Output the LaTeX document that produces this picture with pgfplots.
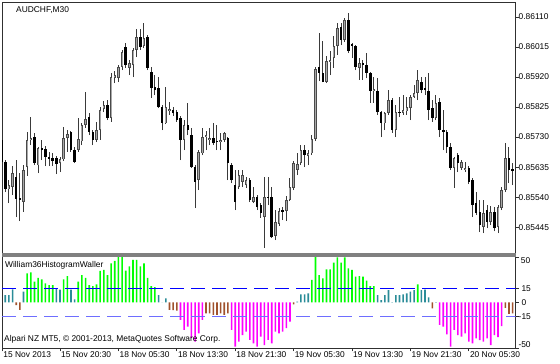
\documentclass[border=0pt]{standalone}
\usepackage{pgfplots}
\usepackage{pgfplotstable}
\pgfplotsset{compat=1.18}
\usepackage{fontspec}
\setmainfont{Liberation Sans}
\definecolor{wickcol}{HTML}{3A3A3A}
\definecolor{bullline}{HTML}{4A4A4A}
\definecolor{bullin}{HTML}{A8A8A8}
\definecolor{hlime}{HTML}{00FF00}
\definecolor{hteal}{HTML}{2A8C98}
\definecolor{hbrown}{HTML}{A0522D}
\definecolor{hmag}{HTML}{FF00FF}
\definecolor{lvlup}{HTML}{0000FF}
\definecolor{lvldn}{HTML}{6E6EFF}
\definecolor{framecol}{HTML}{303030}

\pgfplotstableread{
k o h l c
-1 0.85721 0.85736 0.85641 0.85651
0 0.85651 0.85657 0.85556 0.85565
1 0.85565 0.85594 0.85521 0.85578
2 0.85572 0.85638 0.85546 0.85616
3 0.85603 0.85657 0.85477 0.85534
4 0.85537 0.85616 0.85464 0.85531
5 0.85524 0.85641 0.85493 0.85626
6 0.85635 0.85746 0.85607 0.85721
7 0.85721 0.85793 0.85705 0.85727
8 0.85730 0.85743 0.85641 0.85648
9 0.85641 0.85698 0.85616 0.85695
10 0.85695 0.85721 0.85657 0.85689
11 0.85692 0.85702 0.85638 0.85667
12 0.85667 0.85683 0.85638 0.85660
13 0.85664 0.85679 0.85638 0.85654
14 0.85664 0.85670 0.85613 0.85645
15 0.85648 0.85667 0.85619 0.85660
16 0.85660 0.85762 0.85654 0.85727
17 0.85727 0.85752 0.85683 0.85740
18 0.85746 0.85749 0.85683 0.85689
19 0.85689 0.85698 0.85648 0.85651
20 0.85689 0.85790 0.85683 0.85724
21 0.85717 0.85774 0.85705 0.85768
22 0.85768 0.85873 0.85759 0.85787
23 0.85793 0.85806 0.85736 0.85746
24 0.85746 0.85752 0.85705 0.85721
25 0.85721 0.85778 0.85714 0.85752
26 0.85752 0.85825 0.85721 0.85816
27 0.85819 0.85844 0.85809 0.85831
28 0.85831 0.85847 0.85784 0.85790
29 0.85790 0.85933 0.85778 0.85920
30 0.85917 0.85939 0.85901 0.85926
31 0.85917 0.85958 0.85904 0.85952
32 0.85952 0.86006 0.85942 0.85999
33 0.86015 0.86028 0.85949 0.85958
34 0.85949 0.85974 0.85926 0.85964
35 0.85958 0.86012 0.85920 0.86006
36 0.86006 0.86072 0.85983 0.86047
37 0.86047 0.86072 0.86006 0.86015
38 0.86018 0.86091 0.86012 0.86044
39 0.86047 0.86053 0.85942 0.85949
40 0.85936 0.85952 0.85854 0.85885
41 0.85888 0.85926 0.85863 0.85879
42 0.85885 0.85920 0.85822 0.85825
43 0.85825 0.85831 0.85752 0.85774
44 0.85774 0.85888 0.85771 0.85825
45 0.85812 0.85841 0.85800 0.85819
46 0.85816 0.85825 0.85797 0.85806
47 0.85809 0.85816 0.85778 0.85784
48 0.85790 0.85797 0.85657 0.85721
49 0.85721 0.85784 0.85689 0.85768
50 0.85768 0.85838 0.85736 0.85752
51 0.85736 0.85759 0.85632 0.85635
52 0.85635 0.85641 0.85505 0.85588
53 0.85594 0.85689 0.85562 0.85683
54 0.85679 0.85759 0.85673 0.85730
55 0.85730 0.85749 0.85689 0.85736
56 0.85721 0.85759 0.85705 0.85727
57 0.85727 0.85774 0.85705 0.85711
58 0.85717 0.85768 0.85689 0.85714
59 0.85714 0.85743 0.85689 0.85721
60 0.85721 0.85746 0.85714 0.85743
61 0.85727 0.85730 0.85594 0.85648
62 0.85641 0.85648 0.85584 0.85594
63 0.85578 0.85626 0.85499 0.85524
64 0.85572 0.85626 0.85565 0.85610
65 0.85588 0.85626 0.85572 0.85610
66 0.85578 0.85603 0.85569 0.85594
67 0.85594 0.85600 0.85524 0.85531
68 0.85524 0.85572 0.85521 0.85540
69 0.85540 0.85546 0.85499 0.85508
70 0.85515 0.85521 0.85474 0.85489
71 0.85477 0.85603 0.85379 0.85540
72 0.85540 0.85603 0.85515 0.85537
73 0.85540 0.85572 0.85410 0.85413
74 0.85417 0.85499 0.85404 0.85461
75 0.85455 0.85505 0.85448 0.85496
76 0.85499 0.85508 0.85467 0.85493
77 0.85496 0.85543 0.85464 0.85531
78 0.85531 0.85600 0.85527 0.85572
79 0.85569 0.85654 0.85562 0.85648
80 0.85626 0.85679 0.85610 0.85645
81 0.85648 0.85705 0.85641 0.85689
82 0.85689 0.85705 0.85635 0.85673
83 0.85670 0.85689 0.85641 0.85679
84 0.85679 0.85736 0.85673 0.85724
85 0.85724 0.85952 0.85717 0.85945
86 0.85952 0.86059 0.85907 0.85933
87 0.85933 0.86034 0.85904 0.85904
88 0.85904 0.85987 0.85901 0.85971
89 0.85968 0.86002 0.85926 0.85974
90 0.85980 0.86050 0.85949 0.86018
91 0.86018 0.86091 0.85990 0.86075
92 0.86078 0.86091 0.86021 0.86037
93 0.86037 0.86107 0.86031 0.86101
94 0.86101 0.86123 0.85996 0.86002
95 0.86025 0.86028 0.85980 0.86018
96 0.86018 0.86021 0.85942 0.85952
97 0.85949 0.85980 0.85911 0.85964
98 0.85964 0.85974 0.85911 0.85958
99 0.85958 0.85996 0.85917 0.85933
100 0.85933 0.85936 0.85838 0.85876
101 0.85876 0.85920 0.85838 0.85882
102 0.85876 0.85917 0.85800 0.85809
103 0.85809 0.85812 0.85730 0.85774
104 0.85774 0.85809 0.85752 0.85806
105 0.85806 0.85879 0.85800 0.85847
106 0.85847 0.85854 0.85743 0.85752
107 0.85752 0.85831 0.85730 0.85809
108 0.85809 0.85857 0.85793 0.85806
109 0.85806 0.85863 0.85800 0.85816
110 0.85812 0.85857 0.85800 0.85825
111 0.85822 0.85863 0.85784 0.85857
112 0.85857 0.85895 0.85854 0.85869
113 0.85869 0.85942 0.85847 0.85911
114 0.85904 0.85920 0.85869 0.85879
115 0.85885 0.85920 0.85863 0.85879
116 0.85876 0.85933 0.85784 0.85816
117 0.85822 0.85847 0.85778 0.85790
118 0.85790 0.85863 0.85784 0.85838
119 0.85841 0.85854 0.85730 0.85752
120 0.85752 0.85816 0.85689 0.85746
121 0.85746 0.85752 0.85679 0.85698
122 0.85698 0.85711 0.85626 0.85632
123 0.85632 0.85667 0.85569 0.85664
124 0.85673 0.85679 0.85619 0.85648
125 0.85632 0.85657 0.85626 0.85651
126 0.85626 0.85651 0.85619 0.85632
127 0.85632 0.85638 0.85581 0.85588
128 0.85594 0.85600 0.85477 0.85515
129 0.85521 0.85556 0.85483 0.85489
130 0.85493 0.85531 0.85429 0.85451
131 0.85445 0.85531 0.85426 0.85489
132 0.85499 0.85515 0.85442 0.85461
133 0.85461 0.85512 0.85451 0.85493
134 0.85493 0.85508 0.85432 0.85442
135 0.85445 0.85515 0.85426 0.85508
136 0.85505 0.85572 0.85499 0.85562
137 0.85562 0.85711 0.85556 0.85664
138 0.85664 0.85698 0.85584 0.85626
139 0.85629 0.85648 0.85578 0.85622
}\candles

\pgfplotstableread{
k v
-1 0
0 8
1 8
2 14.5
3 -3
4 -8
5 12
6 32
7 33
8 23
9 27
10 25.5
11 21
12 19
13 19
14 14.6
15 14
16 25.5
17 29
18 14
19 3.5
20 23
21 30
22 27
23 19
24 18
25 20
26 34.6
27 35.7
28 30
29 43
30 45.7
31 50
32 50
33 35
34 39.6
35 46.7
36 46.7
37 39.6
38 43
39 27
40 18
41 17
42 8
43 0
44 4.6
45 -8
46 -8.5
47 -9
48 -19
49 -30
50 -26.6
51 -39
52 -43
53 -34
54 -19
55 -12
56 -12
57 -13.7
58 -13.7
59 -12
60 -13.7
61 -12
62 -30
63 -48.5
64 -43
65 -35.7
66 -32
67 -41
68 -45
69 -48.5
70 -37.5
71 -46.7
72 -41
73 -45
74 -32
75 -33.9
76 -32
77 -28
78 -21
79 -2
80 1
81 9
82 9
83 10
84 24.7
85 50
86 30
87 26.6
88 36.4
89 36.4
90 43.8
91 49.6
92 43.8
93 49.6
94 37.5
95 35.7
96 28.4
97 29
98 28.4
99 24
100 18.1
101 18.1
102 8.2
103 2.7
104 8.2
105 13.7
106 0.5
107 8.2
108 8.2
109 9
110 10
111 12
112 13.7
113 20
114 13.7
115 14.2
116 5.7
117 -6.4
118 0.5
119 -24.7
120 -26.6
121 -35
122 -48.5
123 -30
124 -35.7
125 -37.5
126 -33.9
127 -43
128 -45
129 -39.4
130 -41.2
131 -43
132 -39.4
133 -46.7
134 -35.7
135 -38
136 -26
137 -6
138 -12.5
139 -12
}\hist

\begin{document}
\begin{tikzpicture}[font=\fontsize{8.4}{10}\selectfont]
\useasboundingbox (0,0) rectangle (560pt,364pt);
\fill[white] (0,0) rectangle (560pt,364pt);

% ---------------- main price panel ----------------
\begin{axis}[
  at={(2.2pt,110pt)}, anchor=south west, scale only axis,
  width=513.3pt, height=251.8pt,
  xmin=-0.836, xmax=139.79, ymin=0.85360, ymax=0.86157,
  clip mode=individual,
  axis line style={draw=framecol, line width=1pt},
  xtick=\empty,
  ytick={0.85445,0.85540,0.85635,0.85730,0.85825,0.85920,0.86015,0.86110},
  yticklabels={0.85445,0.85540,0.85635,0.85730,0.85825,0.85920,0.86015,0.86110},
  ytick pos=upper, yticklabel pos=upper,
  tick align=outside, major tick length=3pt,
  major tick style={draw=framecol, line width=0.9pt},
  yticklabel style={anchor=west, inner sep=0pt, font=\fontsize{8.4}{10}\selectfont},
]
% wicks
\addplot[draw=none, mark=none, forget plot,
  error bars/.cd, y dir=plus, y explicit, error mark=none,
  error bar style={line width=1pt, draw=wickcol}]
  table[x=k, y=l, y error expr=\thisrow{h}-\thisrow{l}] {\candles};
% bull bodies (outline)
\addplot[draw=none, mark=none, forget plot,
  restrict expr to domain={\thisrow{c}-\thisrow{o}}{0:1},
  error bars/.cd, y dir=plus, y explicit, error mark=none,
  error bar style={line width=2.5pt, draw=bullline}]
  table[x=k, y=o, y error expr=\thisrow{c}-\thisrow{o}] {\candles};
% bull bodies (inside)
\addplot[draw=none, mark=none, forget plot,
  restrict expr to domain={\thisrow{c}-\thisrow{o}}{0.00005:1},
  error bars/.cd, y dir=plus, y explicit, error mark=none,
  error bar style={line width=1pt, draw=bullin}]
  table[x=k, y expr=\thisrow{o}+0.000022, y error expr=\thisrow{c}-\thisrow{o}-0.000044] {\candles};
% bear bodies
\addplot[draw=none, mark=none, forget plot,
  restrict expr to domain={\thisrow{o}-\thisrow{c}}{0.000001:1},
  error bars/.cd, y dir=plus, y explicit, error mark=none,
  error bar style={line width=2.5pt, draw=black}]
  table[x=k, y=c, y error expr=\thisrow{o}-\thisrow{c}] {\candles};
\node[anchor=north west, inner sep=0pt, xshift=13.8pt, yshift=-3.8pt] at (rel axis cs:0,1) {AUDCHF,M30};
\end{axis}

% ---------------- indicator panel ----------------
\begin{axis}[
  at={(2.2pt,15.5pt)}, anchor=south west, scale only axis,
  width=513.3pt, height=92pt,
  xmin=-0.836, xmax=139.79, ymin=-50.5, ymax=50.5,
  clip mode=individual,
  axis line style={draw=framecol, line width=1pt},
  xtick={-0.836,15,31,47,63,79,95,111,127},
  xticklabels={15 Nov 2013,15 Nov 20:30,18 Nov 05:30,18 Nov 13:30,18 Nov 21:30,19 Nov 05:30,19 Nov 13:30,19 Nov 21:30,20 Nov 05:30},
  xtick pos=lower, xticklabel pos=lower,
  ytick={-50,-15,0,15,50},
  yticklabels={{},-15,\phantom{-}0,\phantom{-}15,{}},
  ytick pos=upper, yticklabel pos=upper,
  tick align=outside, major tick length=3pt,
  major tick style={draw=framecol, line width=0.9pt},
  yticklabel style={anchor=west, inner sep=0pt, font=\fontsize{8.4}{10}\selectfont},
  xticklabel style={anchor=north west, inner sep=0pt, xshift=1pt, font=\fontsize{8.4}{10}\selectfont},
]
\addplot[ybar, bar width=1.6pt, bar shift=0pt, fill=hlime, draw=none, forget plot,
  restrict y to domain=15:60] table[x=k, y=v] {\hist};
\addplot[ybar, bar width=1.6pt, bar shift=0pt, fill=hteal, draw=none, forget plot,
  restrict y to domain=0:14.99] table[x=k, y=v] {\hist};
\addplot[ybar, bar width=1.6pt, bar shift=0pt, fill=hbrown, draw=none, forget plot,
  restrict y to domain=-14.99:-0.01] table[x=k, y=v] {\hist};
\addplot[ybar, bar width=1.6pt, bar shift=0pt, fill=hmag, draw=none, forget plot,
  restrict y to domain=-60:-15] table[x=k, y=v] {\hist};
\addplot[lvlup, line width=1pt, dash pattern=on 14pt off 7pt, forget plot] coordinates {(-0.836,15) (139.79,15)};
\addplot[lvldn, line width=1.1pt, dash pattern=on 14pt off 7pt, forget plot] coordinates {(-0.836,-15) (139.79,-15)};
\node[anchor=north west, inner sep=0pt, xshift=2.8pt, yshift=-5.2pt] at (rel axis cs:0,1) {William36HistogramWaller};
\node[anchor=north west, inner sep=0pt, xshift=1.8pt, yshift=13.5pt] at (rel axis cs:0,0) {Alpari NZ MT5, \textcopyright{} 2001-2013, MetaQuotes Software Corp.};
\node[anchor=west, inner sep=0pt, xshift=5.2pt, yshift=-4pt] at (rel axis cs:1,1) {50};
\node[anchor=west, inner sep=0pt, xshift=2.8pt, yshift=4pt] at (rel axis cs:1,0) {-50};
\end{axis}

\fill[black!50] (1.7pt,107pt) rectangle (516pt,110.5pt);
\end{tikzpicture}
\end{document}
